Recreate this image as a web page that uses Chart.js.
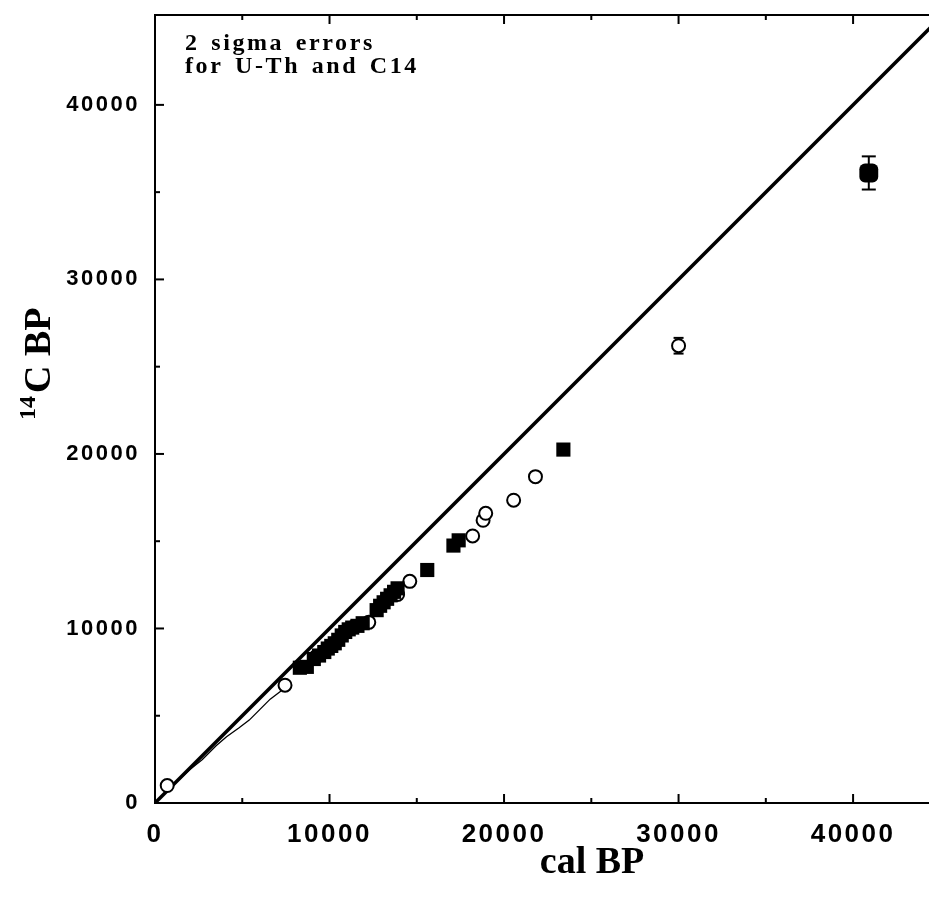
<!DOCTYPE html>
<html>
<head>
<meta charset="utf-8">
<script src="https://cdn.jsdelivr.net/npm/chart.js@4.4.1/dist/chart.umd.min.js"></script>
<style>
body{margin:0;background:#fff;}
#wrap{width:929px;height:899px;}
</style>
</head>
<body>
<div id="wrap"><canvas id="calChart" width="929" height="899"></canvas></div>
<script>

/* ================================
   DATA
================================ */

const majorTicks=[0,10000,20000,30000,40000];
const minorTicks=[5000,15000,25000,35000];

// open circles
const circleCal=[700,7450,9250,11400,12250,13900,14600,18200,18800,18950,20550,21800,30000];
const circleC14=[1000,6750,8400,10100,10350,11950,12700,15300,16200,16600,17350,18700,26200];

// filled squares
const squareCal=[8300,8700,9100,9400,9700,9900,10100,10300,10500,10700,10900,11100,11300,11600,11900,
                 12700,12900,13100,13300,13500,13700,13900,15600,17100,17400,23400];
const squareC14=[7750,7800,8250,8450,8650,8850,9000,9150,9350,9600,9800,9950,10050,10150,10300,
                 11050,11300,11500,11700,11900,12100,12300,13350,14750,15050,20250];

// the oldest sample
const bigCal=[40900];
const bigC14=[36100];

// 2 sigma error bars
const errCal=[30000,40900];
const errC14=[26200,36100];
const errSize=[450,950];

// 1:1 line
const oneToOneCal=[0,46000];
const oneToOneC14=[0,46000];

// tree ring curve
const ringCal=[0,1000,2000,2700,3500,4100,4800,5400,6000,6600,7200,7700];
const ringC14=[0,990,1920,2480,3280,3800,4300,4750,5350,5950,6400,6850];

const xMax=44350;
const yMax=45150;

function toPoints(xs,ys){
    return xs.map((v,i)=>({x:v,y:ys[i]}));
}


/* ================================
   PLUGINS
================================ */

const spacingPlugin={
    id:"spacing",
    beforeDraw(chart){
        chart.ctx.letterSpacing="2.5px";
    }
};

function line(ctx,x1,y1,x2,y2){
    ctx.beginPath();
    ctx.moveTo(x1,y1);
    ctx.lineTo(x2,y2);
    ctx.stroke();
}

const errorBarPlugin={
    id:"errorBars",
    beforeDatasetsDraw(chart){
        const {ctx,scales:{x,y}}=chart;
        ctx.save();
        ctx.strokeStyle="#000";
        ctx.lineWidth=2;
        errCal.forEach((v,i)=>{
            const px=x.getPixelForValue(v);
            const top=y.getPixelForValue(errC14[i]+errSize[i]);
            const bot=y.getPixelForValue(errC14[i]-errSize[i]);
            const cap=i===0 ? 5 : 7;
            line(ctx,px,top,px,bot);
            line(ctx,px-cap,top,px+cap,top);
            line(ctx,px-cap,bot,px+cap,bot);
        });
        ctx.restore();
    }
};

const framePlugin={
    id:"frame",
    afterDraw(chart){
        const {ctx,chartArea:a,scales:{x,y}}=chart;
        ctx.save();
        ctx.letterSpacing="0px";
        ctx.strokeStyle="#000";
        ctx.lineWidth=2;

        /* inward ticks */
        majorTicks.forEach(v=>{
            if(v===0) return;
            const px=x.getPixelForValue(v);
            const py=y.getPixelForValue(v);
            line(ctx,px,a.bottom,px,a.bottom-9);
            line(ctx,px,a.top,px,a.top+9);
            line(ctx,a.left,py,a.left+9,py);
        });
        minorTicks.forEach(v=>{
            const px=x.getPixelForValue(v);
            const py=y.getPixelForValue(v);
            line(ctx,px,a.bottom,px,a.bottom-5);
            line(ctx,px,a.top,px,a.top+5);
            line(ctx,a.left,py,a.left+5,py);
        });

        ctx.fillStyle="#000";
        ctx.textBaseline="alphabetic";

        /* x title */
        ctx.font="bold 38px 'Liberation Serif', serif";
        ctx.textAlign="center";
        ctx.fillText("cal BP",592,873);

        /* y title with superscript */
        ctx.save();
        ctx.translate(50,420);
        ctx.rotate(-Math.PI/2);
        ctx.textAlign="left";
        ctx.font="bold 24px 'Liberation Serif', serif";
        ctx.fillText("14",0,-15);
        const w14=ctx.measureText("14").width;
        ctx.font="bold 38px 'Liberation Serif', serif";
        ctx.fillText("C BP",w14+3,0);
        ctx.restore();

        /* note */
        ctx.textAlign="left";
        ctx.font="bold 24px 'Liberation Serif', serif";
        ctx.letterSpacing="2.6px";
        ctx.wordSpacing="3px";
        ctx.fillText("2 sigma errors",185,50);
        ctx.fillText("for U-Th and C14",185,73);

        ctx.restore();
    }
};

function fixedTicks(s){
    s.ticks=majorTicks.map(v=>({value:v}));
}


/* ================================
   CHART
================================ */

function buildChart(){

    const canvas=document.getElementById("calChart");

    const tickFontX={family:"'Liberation Sans', Arial, sans-serif",weight:"bold",size:26};
    const tickFontY={family:"'Liberation Sans', Arial, sans-serif",weight:"bold",size:22};

    return new Chart(canvas.getContext("2d"),{

        type:"scatter",

        data:{
            datasets:[
                {
                    label:"big",
                    data:toPoints(bigCal,bigC14),
                    pointStyle:"rectRounded",
                    pointRadius:11,
                    backgroundColor:"#000",
                    borderColor:"#000",
                    borderWidth:0
                },
                {
                    label:"squares",
                    data:toPoints(squareCal,squareC14),
                    pointStyle:"rect",
                    pointRadius:10,
                    backgroundColor:"#000",
                    borderColor:"#000",
                    borderWidth:0
                },
                {
                    label:"circles",
                    data:toPoints(circleCal,circleC14),
                    pointStyle:"circle",
                    pointRadius:6.5,
                    backgroundColor:"#fff",
                    borderColor:"#000",
                    borderWidth:2
                },
                {
                    label:"tree ring",
                    data:toPoints(ringCal,ringC14),
                    showLine:true,
                    pointRadius:0,
                    borderColor:"#000",
                    borderWidth:1.3
                },
                {
                    label:"1:1",
                    data:toPoints(oneToOneCal,oneToOneC14),
                    showLine:true,
                    pointRadius:0,
                    borderColor:"#000",
                    borderWidth:3.5
                }
            ]
        },

        options:{
            responsive:false,
            animation:false,
            layout:{autoPadding:false,padding:{top:15,left:0,right:0,bottom:0}},
            plugins:{
                legend:{display:false},
                tooltip:{enabled:false}
            },
            scales:{
                x:{
                    type:"linear",
                    position:"bottom",
                    min:0,
                    max:xMax,
                    afterBuildTicks:fixedTicks,
                    afterFit(s){ s.height=96; s.paddingRight=0; s.paddingLeft=0; },
                    grid:{display:false,drawTicks:false},
                    border:{color:"#000",width:2},
                    ticks:{
                        font:tickFontX,
                        color:"#000",
                        padding:16,
                        maxRotation:0,
                        autoSkip:false,
                        callback:v=>String(v)
                    }
                },
                xTop:{
                    type:"linear",
                    position:"top",
                    min:0,
                    max:xMax,
                    afterFit(s){ s.height=0; },
                    grid:{display:false,drawTicks:false},
                    border:{color:"#000",width:2},
                    ticks:{display:false}
                },
                y:{
                    type:"linear",
                    position:"left",
                    min:0,
                    max:yMax,
                    afterBuildTicks:fixedTicks,
                    afterFit(s){ s.width=155; s.paddingTop=0; s.paddingBottom=0; },
                    grid:{display:false,drawTicks:false},
                    border:{color:"#000",width:2},
                    ticks:{
                        font:tickFontY,
                        color:"#000",
                        padding:15,
                        autoSkip:false,
                        callback:v=>String(v)
                    }
                }
            }
        },

        plugins:[spacingPlugin,errorBarPlugin,framePlugin]

    });

}

document.addEventListener("DOMContentLoaded",function(){
    buildChart();
});

</script>
</body>
</html>
